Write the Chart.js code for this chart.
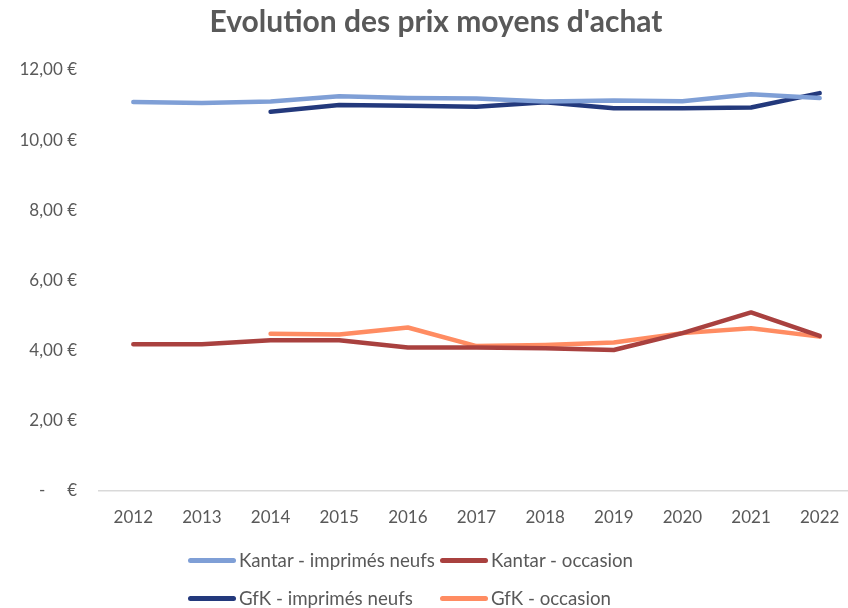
<!DOCTYPE html>
<html>
<head>
<meta charset="utf-8">
<script src="https://cdn.jsdelivr.net/npm/chart.js@4.4.1/dist/chart.umd.min.js"></script>
<style>
  html, body { margin: 0; padding: 0; background: #ffffff; overflow: hidden; }
  #wrap { position: absolute; left: 0; top: 0; width: 856px; height: 608px; }
  #legend { position: absolute; left: 0; top: 0; width: 848px; height: 608px; pointer-events: none;
            font-family: Lato, "Open Sans", sans-serif; font-size: 18.7px; color: #595959; }
  .item { position: absolute; display: flex; align-items: center; white-space: nowrap; }
  .sw { width: 48px; height: 5px; border-radius: 3px; margin-right: 3px; }
</style>
</head>
<body>
<div id="wrap"><canvas id="c" width="856" height="608"></canvas></div>
<div id="legend"></div>
<script>
const years = ["2012","2013","2014","2015","2016","2017","2018","2019","2020","2021","2022"];
const kantarNeufs    = [11.09, 11.06, 11.10, 11.25, 11.20, 11.19, 11.10, 11.13, 11.11, 11.31, 11.20];
const kantarOccasion = [4.18, 4.18, 4.30, 4.30, 4.09, 4.09, 4.07, 4.02, 4.50, 5.09, 4.42];
const gfkNeufs       = [null, null, 10.81, 11.00, 10.98, 10.95, 11.08, 10.91, 10.91, 10.93, 11.34];
const gfkOccasion    = [null, null, 4.48, 4.46, 4.66, 4.13, 4.16, 4.23, 4.50, 4.64, 4.40];
const seriesNames = ["Kantar - imprimés neufs", "Kantar - occasion", "GfK - imprimés neufs", "GfK - occasion"];
const seriesColors = ["#7f9fd6", "#a9413f", "#23397c", "#ff8c62"];
const yTicks = [0, 2, 4, 6, 8, 10, 12];

function fmtEuro(v) {
  if (v === 0) return "-     €";
  return v.toFixed(2).replace(".", ",") + " €";
}

const seriesData = [kantarNeufs, kantarOccasion, gfkNeufs, gfkOccasion];
const datasets = seriesData.map((d, i) => ({
  label: seriesNames[i],
  data: d,
  borderColor: seriesColors[i],
  backgroundColor: seriesColors[i],
  borderWidth: 4.5,
  pointRadius: 0,
  tension: 0,
  borderCapStyle: "round",
  borderJoinStyle: "round",
  fill: false
}));

new Chart(document.getElementById("c"), {
  type: "line",
  data: { labels: years, datasets: datasets },
  options: {
    responsive: false,
    animation: false,
    devicePixelRatio: 1,
    layout: { padding: { left: 18, right: 2, top: 0, bottom: 0 } },
    plugins: {
      legend: { display: false },
      tooltip: { enabled: false },
      title: {
        display: true,
        text: "Evolution des prix moyens d'achat",
        color: "#595959",
        font: { family: "Lato, 'Open Sans', sans-serif", size: 30, weight: "bold" },
        padding: { top: 4, bottom: 30 }
      }
    },
    scales: {
      x: {
        offset: true,
        grid: { display: false, drawTicks: false },
        border: { display: true, color: "#d9d9d9", width: 1.5 },
        ticks: { color: "#595959", font: { family: "Lato, 'Open Sans', sans-serif", size: 17 }, padding: 16, maxRotation: 0 },
        afterFit: (s) => { s.height = 117; }
      },
      y: {
        min: 0, max: 12,
        afterBuildTicks: (s) => { s.ticks = yTicks.map(v => ({ value: v })); },
        grid: { display: false, drawTicks: false },
        border: { display: false },
        ticks: { color: "#595959", font: { family: "Lato, 'Open Sans', sans-serif", size: 17 }, padding: 22,
                 callback: (v) => fmtEuro(v) },
        afterFit: (s) => { s.width = 81; }
      }
    }
  }
});

// HTML legend (two aligned columns, like the reference)
const legendPos = [[188, 561], [440, 561], [188, 599], [440, 599]];
const lg = document.getElementById("legend");
seriesNames.forEach((n, i) => {
  const it = document.createElement("div");
  it.className = "item";
  it.style.left = legendPos[i][0] + "px";
  it.style.top = (legendPos[i][1] - 12) + "px";
  const sw = document.createElement("span");
  sw.className = "sw";
  sw.style.background = seriesColors[i];
  const tx = document.createElement("span");
  tx.textContent = n;
  it.appendChild(sw); it.appendChild(tx);
  lg.appendChild(it);
});
</script>
</body>
</html>
